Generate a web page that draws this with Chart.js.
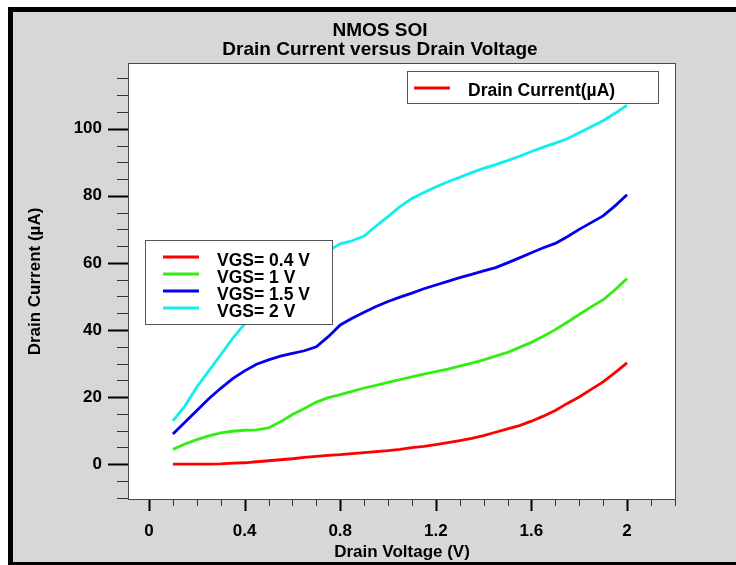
<!DOCTYPE html>
<html>
<head>
<meta charset="utf-8">
<title>NMOS SOI</title>
<script src="https://cdn.jsdelivr.net/npm/chart.js@4"></script>
<style>
  html, body { margin: 0; padding: 0; background: #fff; overflow: hidden; }
  #frame {
    position: absolute; left: 8px; top: 7px; width: 728px; height: 558px;
    box-sizing: border-box; background: #d7d7d7;
    border-top: 5px solid #000; border-left: 5px solid #000; border-bottom: 3px solid #000;
  }
  canvas { display: block; }
</style>
</head>
<body>
<div id="frame"><canvas id="ivChart" width="723" height="550"></canvas></div>
<script>
// Id-Vd sweep, one curve per gate voltage
const drainVoltage = [0.1, 0.15, 0.2, 0.25, 0.3, 0.35, 0.4, 0.45, 0.5, 0.55, 0.6, 0.65, 0.7, 0.75, 0.8, 0.85, 0.9, 0.95,
                      1.0, 1.05, 1.1, 1.15, 1.2, 1.25, 1.3, 1.35, 1.4, 1.45, 1.5, 1.55, 1.6, 1.65, 1.7, 1.75, 1.8, 1.85, 1.9, 1.95, 2.0];
const currentVgs04 = [0, 0, 0, 0, 0.05, 0.3, 0.4, 0.7, 1.0, 1.3, 1.6, 2.0, 2.3, 2.6, 2.8, 3.1, 3.4, 3.7,
                      4.0, 4.4, 4.9, 5.3, 5.8, 6.4, 7.0, 7.7, 8.5, 9.5, 10.5, 11.5, 12.8, 14.3, 16.0, 18.1, 20.0, 22.3, 24.5, 27.3, 30.2];
const currentVgs1 = [4.4, 6.0, 7.3, 8.4, 9.3, 9.8, 10.1, 10.2, 10.8, 12.6, 14.8, 16.6, 18.5, 19.8, 20.7, 21.7, 22.7, 23.5,
                     24.4, 25.2, 26.0, 26.8, 27.6, 28.3, 29.2, 30.1, 31.1, 32.2, 33.3, 34.8, 36.3, 38.1, 40.1, 42.3, 44.6, 46.9, 49.0, 52.0, 55.3];
const currentVgs15 = [9.0, 12.5, 16.0, 19.5, 22.6, 25.5, 27.8, 29.8, 31.1, 32.2, 33.0, 33.8, 35.0, 38.0, 41.5, 43.5, 45.3, 47.0,
                      48.5, 49.8, 51.0, 52.3, 53.4, 54.5, 55.6, 56.6, 57.6, 58.6, 60.0, 61.5, 63.0, 64.5, 65.8, 67.8, 70.0, 72.0, 74.0, 77.0, 80.3];
const currentVgs2 = [12.9, 17.3, 23.0, 27.8, 32.6, 37.5, 41.8, 45.8, 49.3, 52.5, 55.5, 58.3, 61.0, 63.6, 65.7, 66.6, 68.0, 71.0,
                     73.8, 76.8, 79.2, 81.0, 82.6, 84.2, 85.5, 86.9, 88.2, 89.3, 90.5, 91.8, 93.2, 94.5, 95.7, 97.0, 98.8, 100.6, 102.4, 104.6, 107.0];

const gateLabels = ['VGS= 0.4 V', 'VGS= 1 V', 'VGS= 1.5 V', 'VGS= 2 V'];
const voltageMajorTicks = [0, 0.4, 0.8, 1.2, 1.6, 2];
const currentMajorTicks = [0, 20, 40, 60, 80, 100];
const chartTitle = ['NMOS SOI', 'Drain Current versus Drain Voltage'];
const quantityLabel = 'Drain Current(µA)';

const lineColors = ['#ff0000', '#33ee11', '#0000ee', '#11eeee'];
const FONT = '"Liberation Sans", Arial, sans-serif';

function stepTicks(from, to, step) {
    const out = [];
    for (let v = from; v <= to + 1e-9; v += step) {
        out.push({ value: Math.round(v * 100) / 100 });
    }
    return out;
}

function series(values) {
    return drainVoltage.map((v, i) => ({ x: v, y: values[i] }));
}

// white plot area with a dark frame
const plotBox = {
    id: 'plotBox',
    beforeDatasetsDraw(chart) {
        const { ctx, chartArea: a } = chart;
        ctx.save();
        ctx.fillStyle = '#fff';
        ctx.fillRect(a.left, a.top, a.right - a.left, a.bottom - a.top);
        ctx.restore();
    },
    afterDraw(chart) {
        const { ctx, chartArea: a, scales: { x, y } } = chart;
        ctx.save();
        ctx.strokeStyle = '#4a4a4a';
        ctx.lineWidth = 1;
        ctx.strokeRect(a.left + 0.5, a.top + 0.5, a.right - a.left - 1, a.bottom - a.top - 1);

        // outward tick marks, long on labelled values
        x.ticks.forEach(t => {
            const major = voltageMajorTicks.includes(t.value);
            const px = Math.round(x.getPixelForValue(t.value)) + 0.5;
            ctx.strokeStyle = major ? '#000' : '#333';
            ctx.lineWidth = major ? 2 : 1;
            ctx.beginPath();
            ctx.moveTo(px, a.bottom);
            ctx.lineTo(px, a.bottom + (major ? 11 : 6));
            ctx.stroke();
        });
        y.ticks.forEach(t => {
            const major = currentMajorTicks.includes(t.value);
            const py = Math.round(y.getPixelForValue(t.value)) + 0.5;
            ctx.strokeStyle = major ? '#000' : '#333';
            ctx.lineWidth = major ? 2 : 1;
            ctx.beginPath();
            ctx.moveTo(a.left - (major ? 20 : 11), py);
            ctx.lineTo(a.left, py);
            ctx.stroke();
        });
        ctx.restore();
    }
};

// two boxed legends sitting inside the plot, plus the two-line heading
const boxedLegends = {
    id: 'boxedLegends',
    afterDatasetsDraw(chart) {
        const { ctx } = chart;
        ctx.save();
        ctx.font = 'bold 17.5px ' + FONT;
        ctx.textBaseline = 'middle';
        ctx.textAlign = 'left';

        // quantity legend, top right
        ctx.fillStyle = '#fff';
        ctx.fillRect(394, 59, 251, 32);
        ctx.strokeStyle = '#555';
        ctx.lineWidth = 1;
        ctx.strokeRect(394.5, 59.5, 251, 32);
        ctx.strokeStyle = lineColors[0];
        ctx.lineWidth = 3;
        ctx.beginPath();
        ctx.moveTo(401, 76);
        ctx.lineTo(437, 76);
        ctx.stroke();
        ctx.fillStyle = '#000';
        ctx.fillText(quantityLabel, 455, 79);

        // gate voltage legend
        ctx.fillStyle = '#fff';
        ctx.fillRect(132, 228, 187, 84);
        ctx.strokeStyle = '#555';
        ctx.lineWidth = 1;
        ctx.strokeRect(132.5, 228.5, 187, 84);
        chart.data.datasets.forEach((ds, i) => {
            const rowY = 245 + i * 17;
            ctx.strokeStyle = ds.borderColor;
            ctx.lineWidth = 3;
            ctx.beginPath();
            ctx.moveTo(150, rowY);
            ctx.lineTo(186, rowY);
            ctx.stroke();
            ctx.fillStyle = '#000';
            ctx.fillText(ds.label, 204, rowY + 4);
        });
        ctx.restore();
    },
    afterDraw(chart) {
        const { ctx } = chart;
        ctx.save();
        ctx.font = 'bold 19px ' + FONT;
        ctx.fillStyle = '#000';
        ctx.textAlign = 'center';
        ctx.textBaseline = 'middle';
        ctx.fillText(chartTitle[0], 367, 19);
        ctx.fillText(chartTitle[1], 367, 38);
        ctx.restore();
    }
};

const ctx = document.getElementById('ivChart').getContext('2d');
new Chart(ctx, {
    type: 'line',
    data: {
        datasets: [currentVgs04, currentVgs1, currentVgs15, currentVgs2].map((vals, i) => ({
            label: gateLabels[i],
            data: series(vals),
            borderColor: lineColors[i],
            borderWidth: 2.8,
            pointRadius: 0,
            tension: 0,
            fill: false
        }))
    },
    options: {
        responsive: false,
        animation: false,
        devicePixelRatio: 1,
        layout: { padding: { top: 51, right: 60, left: 0, bottom: 0 } },
        plugins: {
            legend: { display: false },
            tooltip: { enabled: false },
            title: { display: false }
        },
        scales: {
            x: {
                type: 'linear',
                min: -0.088,
                max: 2.205,
                afterFit: scale => { scale.height = 62; },
                afterBuildTicks: scale => { scale.ticks = stepTicks(0, 2.2, 0.1); },
                grid: { display: false, drawTicks: false },
                border: { display: false },
                ticks: {
                    autoSkip: false,
                    maxRotation: 0,
                    padding: 21,
                    color: '#000',
                    font: { family: FONT, size: 17, weight: 'bold' },
                    callback: v => voltageMajorTicks.includes(v) ? String(v) : ''
                },
                title: {
                    display: true,
                    text: 'Drain Voltage (V)',
                    color: '#000',
                    font: { family: FONT, size: 17, weight: 'bold', lineHeight: 1.0 },
                    padding: { top: 0, bottom: 1 }
                }
            },
            y: {
                type: 'linear',
                min: -10.7,
                max: 119.6,
                afterFit: scale => { scale.width = 115; },
                afterBuildTicks: scale => { scale.ticks = stepTicks(-10, 115, 5); },
                grid: { display: false, drawTicks: false },
                border: { display: false },
                ticks: {
                    autoSkip: false,
                    padding: 26,
                    color: '#000',
                    font: { family: FONT, size: 17, weight: 'bold' },
                    callback: v => currentMajorTicks.includes(v) ? String(v) : ''
                },
                title: {
                    display: true,
                    text: 'Drain Current (µA)',
                    color: '#000',
                    font: { family: FONT, size: 17, weight: 'bold' },
                    padding: { top: 12, bottom: 0 }
                }
            }
        }
    },
    plugins: [plotBox, boxedLegends]
});
</script>
</body>
</html>
